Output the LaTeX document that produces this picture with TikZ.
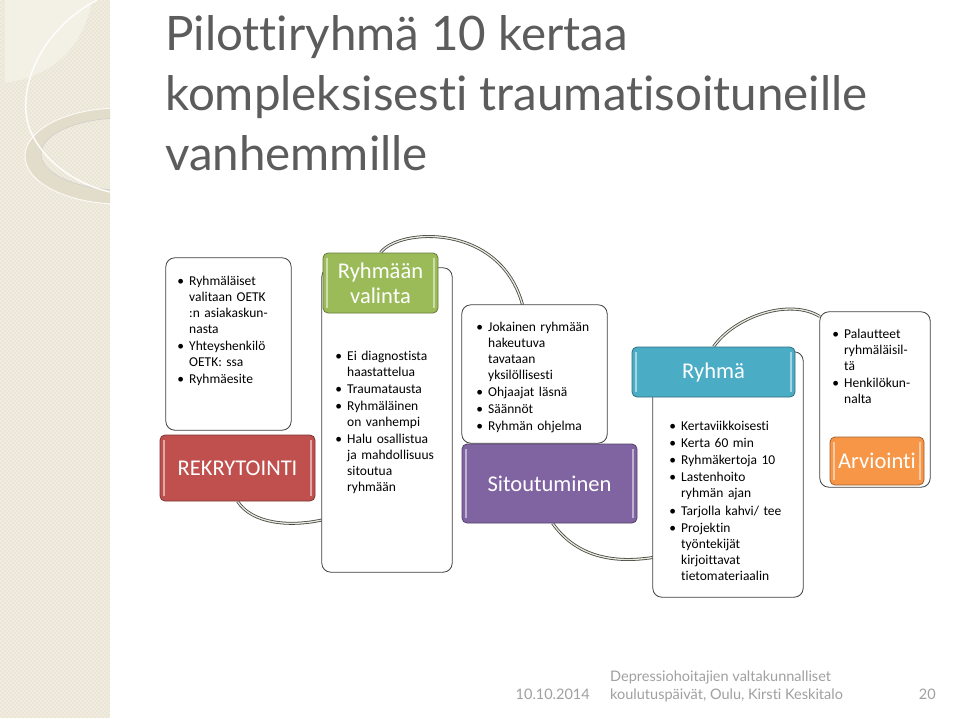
\documentclass[tikz,border=0pt]{standalone}
\usepackage{fontspec}
\setmainfont{Carlito}[Ligatures={NoCommon}]
\newfontfamily\gillfont{Lato}[Ligatures={NoCommon}]
\usetikzlibrary{calc}
\definecolor{stripbg}{RGB}{235,229,212}
\definecolor{stripleaf}{RGB}{243,240,230}
\definecolor{ringc}{RGB}{226,220,202}
\definecolor{titlegray}{RGB}{92,92,92}
\definecolor{footgray}{RGB}{160,160,160}
\definecolor{redc}{RGB}{192,80,77}
\definecolor{greenc}{RGB}{155,187,89}
\definecolor{purplec}{RGB}{128,100,162}
\definecolor{bluec}{RGB}{75,172,198}
\definecolor{orangec}{RGB}{247,150,70}
\definecolor{arcdark}{RGB}{70,70,62}
\definecolor{arclight}{RGB}{232,232,224}
\newenvironment{blist}[1][12pt]{\begin{list}{\textbullet}{\leftmargin=#1\labelwidth=7pt\labelsep=5pt\itemsep=1.2pt\parsep=0pt\topsep=0pt\partopsep=0pt\rightmargin=0pt}}{\end{list}}
\begin{document}
\begin{tikzpicture}[x=1pt,y=-1pt,
  wbox/.style={draw=black!75, line width=0.8pt, fill=white, rounded corners=9pt},
  hdr/.style={draw=#1!65!black, line width=0.8pt, fill=#1, rounded corners=5pt, text=white,
    font=\fontsize{22.5}{25}\selectfont, align=center, inner sep=0pt,
    path picture={
      \draw[white, opacity=0.5, line width=1.6pt]
        ([xshift=4pt,yshift=-5pt]path picture bounding box.north west) --
        ([xshift=4pt,yshift=5pt]path picture bounding box.south west);
      \draw[white, opacity=0.5, line width=1.6pt]
        ([xshift=-4pt,yshift=-5pt]path picture bounding box.north east) --
        ([xshift=-4pt,yshift=5pt]path picture bounding box.south east);}},
  btxt/.style={anchor=north west, inner sep=0pt, font=\fontsize{13.5}{16}\selectfont,
    text width=#1, align=left},
  conn/.style={draw=arcdark, double=arclight, line width=0.8pt, double distance=1.3pt},
  ttl/.style={anchor=base west, inner sep=0pt, text=titlegray, font=\gillfont\fontsize{47.5}{50}\selectfont},
  foot/.style={inner sep=0pt, text=footgray, font=\gillfont\fontsize{14.5}{18}\selectfont},
]
\useasboundingbox (0,0) rectangle (959,718);
\fill[white] (0,0) rectangle (959,718);
% decorative strip
\begin{scope}
  \clip (0,0) rectangle (110,718);
  \fill[stripbg] (0,0) rectangle (110,718);
  \foreach \k in {-720,-716,...,110} {
    \draw[white, opacity=0.35, line width=0.4pt] (\k,0) -- ++(718,718);
    \draw[white, opacity=0.35, line width=0.4pt] (\k+718,0) -- ++(-718,718);
  }
  \fill[stripleaf] (5,0) -- (92,0) .. controls (85,40) and (60,75) .. (5,83) -- cycle;
  \fill[ringc, even odd rule] (120,156) ellipse [x radius=95, y radius=48]
                               (123,154) ellipse [x radius=82, y radius=36];
  \draw[white, line width=1pt, opacity=0.8] (120,156) ellipse [x radius=95, y radius=48];
  \draw[black!20, line width=0.5pt] (123,154) ellipse [x radius=82, y radius=36];
  \draw[white, line width=1.5pt, opacity=0.9] (97,0) .. controls (40,30) and (15,90) .. (30,130)
        .. controls (45,165) and (80,185) .. (110,192);
\end{scope}
% title
\node[ttl] (t1) at (165,50) {Pilottiryhmä 10 kertaa};
\node[ttl] (t2) at (165,110) {kompleksisesti traumatisoituneille};
\node[ttl] (t3) at (165,170) {vanhemmille};
% boxes (named first so that connectors can use them)
\path (228.5,344) node[minimum width=125, minimum height=172] (bA) {};
\path (387,420) node[minimum width=130, minimum height=304] (bB) {};
\path (534.5,374) node[minimum width=145, minimum height=138] (bC) {};
\path (728,474.5) node[minimum width=150, minimum height=245] (bD) {};
\path (875,399.5) node[minimum width=110, minimum height=175] (bE) {};
\path (237.5,468) node[minimum width=155, minimum height=66] (rek) {};
\path (380.5,283) node[minimum width=115, minimum height=60] (val) {};
\path (549.5,483.5) node[minimum width=175, minimum height=79] (sit) {};
\path (713.5,372) node[minimum width=163, minimum height=50] (ryh) {};
\path (877,461) node[minimum width=94, minimum height=48] (arv) {};
% connectors
\draw[conn] (rek.south) .. controls (252,524) and (290,527) .. ([yshift=-100pt]bB.west);
\draw[conn] (val.north) .. controls (398,228) and (500,222) .. ([xshift=-12pt]bC.north);
\draw[conn] ([xshift=3pt]sit.south) .. controls (575,555) and (610,564) .. ([yshift=-83pt]bD.west);
\draw[conn] (ryh.north) .. controls (735,316) and (790,298) .. ([yshift=83pt]bE.west);
% white boxes
\draw[wbox] (bA.north west) rectangle (bA.south east);
\draw[wbox] (bB.north west) rectangle (bB.south east);
\draw[wbox] (bC.north west) rectangle (bC.south east);
\draw[wbox] (bD.north west) rectangle (bD.south east);
\draw[wbox] (bE.north west) rectangle (bE.south east);
% header boxes
\node[hdr=redc, minimum width=155, minimum height=66] at (rek.center) {REKRYTOINTI};
\node[hdr=greenc, minimum width=115, minimum height=60] at (val.center) {Ryhmään\\valinta};
\node[hdr=purplec, minimum width=175, minimum height=79] at (sit.center) {Sitoutuminen};
\node[hdr=bluec, minimum width=163, minimum height=50] at (ryh.center) {Ryhmä};
\node[hdr=orangec, minimum width=94, minimum height=48] at (arv.center) {Arviointi};
% box texts
\node[btxt=118] (xA) at (174,269) {\begin{blist}[15pt]
 \item Ryhmäläiset\\valitaan OETK\\:n asiakaskun-\\nasta
 \item Yhteyshenkilö\\OETK: ssa
 \item Ryhmäesite
\end{blist}};
\node[btxt=120] (xB) at (335,344) {\begin{blist}
 \item Ei diagnostista\\haastattelua
 \item Traumatausta
 \item Ryhmäläinen\\on vanhempi
 \item Halu osallistua\\ja mahdollisuus\\sitoutua\\ryhmään
\end{blist}};
\node[btxt=135] (xC) at (476,315) {\begin{blist}
 \item Jokainen ryhmään\\hakeutuva\\tavataan\\yksilöllisesti
 \item Ohjaajat läsnä
 \item Säännöt
 \item Ryhmän ohjelma
\end{blist}};
\node[btxt=140] (xD) at (669,414) {\begin{blist}
 \item Kertaviikkoisesti
 \item Kerta 60 min
 \item Ryhmäkertoja 10
 \item Lastenhoito\\ryhmän ajan
 \item Tarjolla kahvi/ tee
 \item Projektin\\työntekijät\\kirjoittavat\\tietomateriaalin
\end{blist}};
\node[btxt=100] (xE) at (832,322) {\begin{blist}
 \item Palautteet\\ryhmäläisil-\\tä
 \item Henkilökun-\\nalta
\end{blist}};
% footer
\node[foot, anchor=base east] (fdate) at (590,699) {10.10.2014};
\node[foot, anchor=base west] (fl1) at (610,681) {Depressiohoitajien valtakunnalliset};
\node[foot, anchor=base west] (fl2) at (610,699) {koulutuspäivät, Oulu, Kirsti Keskitalo};
\node[foot, anchor=base east] (fnum) at (936,699) {20};
\end{tikzpicture}
\end{document}
